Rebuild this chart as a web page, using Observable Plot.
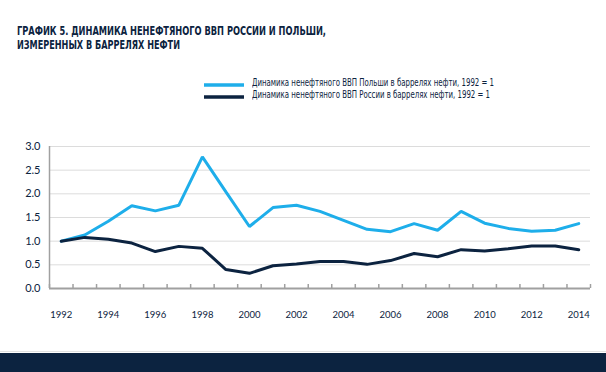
<!DOCTYPE html>
<html>
<head>
<meta charset="utf-8">
<script src="https://cdn.jsdelivr.net/npm/d3@7"></script>
<script src="https://cdn.jsdelivr.net/npm/@observablehq/plot@0.6"></script>
<style>
  html, body { margin: 0; padding: 0; background: #fff; }
  #wrap { position: relative; width: 606px; height: 372px; overflow: hidden; background: #fff; font-family: "DejaVu Sans Condensed", "Liberation Sans", sans-serif; color: #0c2340; }
  #title { position: absolute; left: 17px; top: 24px; font-size: 13px; font-weight: bold; line-height: 14px; color: #0c2340; }
  #title div { white-space: nowrap; transform-origin: 0 50%; display: inline-block; }
  #legend { position: absolute; left: 204px; top: 78px; font-size: 10px; line-height: 12px; color: #0c2340; font-family: "DejaVu Sans Condensed", sans-serif; }
  .lrow { position: relative; height: 12px; white-space: nowrap; }
  .lrow svg { position: absolute; left: 0; top: 5px; }
  .lrow span { position: absolute; left: 48px; top: -1px; display: inline-block; transform-origin: 0 50%; }
  #chart { position: absolute; left: 0; top: 130px; }
  #bar { position: absolute; left: 0; top: 353px; width: 606px; height: 19px; background: #0c2340; }
  #barline { position: absolute; left: 0; top: 351px; width: 606px; height: 1px; background: #e2e2e2; }
</style>
</head>
<body>
<div id="wrap">
  <div id="title"><div id="t1">ГРАФИК 5. ДИНАМИКА НЕНЕФТЯНОГО ВВП РОССИИ И ПОЛЬШИ,</div><br><div id="t2">ИЗМЕРЕННЫХ В БАРРЕЛЯХ НЕФТИ</div></div>
  <div id="legend"></div>
  <div id="chart"></div>
  <div id="barline"></div>
  <div id="bar"></div>
</div>
<script>
const years = [1992,1993,1994,1995,1996,1997,1998,1999,2000,2001,2002,2003,2004,2005,2006,2007,2008,2009,2010,2011,2012,2013,2014];
const poland = [1.00,1.13,1.42,1.75,1.64,1.76,2.78,2.04,1.31,1.71,1.76,1.63,1.44,1.25,1.20,1.37,1.23,1.63,1.38,1.27,1.21,1.23,1.37];
const russia = [1.00,1.08,1.04,0.96,0.78,0.89,0.85,0.40,0.32,0.48,0.52,0.57,0.57,0.51,0.59,0.74,0.67,0.82,0.79,0.84,0.90,0.90,0.82];
const seriesNames = ["Динамика ненефтяного ВВП Польши в баррелях нефти, 1992 = 1", "Динамика ненефтяного ВВП России в баррелях нефти, 1992 = 1"];
const seriesColors = ["#1eaeea", "#0c2340"];
const yTicks = [0, 0.5, 1.0, 1.5, 2.0, 2.5, 3.0];
const xLabels = [1992,1994,1996,1998,2000,2002,2004,2006,2008,2010,2012,2014];

const data = [];
years.forEach((y, i) => {
  data.push({year: y, value: poland[i], series: seriesNames[0]});
  data.push({year: y, value: russia[i], series: seriesNames[1]});
});
const bounds = d3.range(years[0] - 0.5, years[years.length - 1] + 1, 1);

const navy = "#0c2340";
const chart = Plot.plot({
  width: 606,
  height: 200,
  marginLeft: 49,
  marginRight: 16,
  marginTop: 16,
  marginBottom: 42,
  style: {fontFamily: "Lato, 'Open Sans', sans-serif", color: navy, background: "transparent"},
  x: {domain: [years[0] - 0.5, years[years.length - 1] + 0.5], label: null},
  y: {domain: [0, 3], label: null},
  color: {domain: seriesNames, range: seriesColors},
  marks: [
    Plot.gridY(yTicks.filter(d => d > 0), {stroke: "#dcdcdc", strokeOpacity: 1, strokeWidth: 1}),
    Plot.ruleX([years[0] - 0.5], {y1: 0, y2: 3, stroke: "#a0a0a0", strokeWidth: 1.5}),
    Plot.ruleY([0], {stroke: "#a0a0a0", strokeWidth: 2}),
    Plot.axisX({ticks: bounds, tickSize: -4, tickFormat: () => "", label: null, stroke: "#a0a0a0", strokeWidth: 1.5}),
    Plot.axisX({ticks: xLabels, tickSize: 0, tickPadding: 23, label: null, tickFormat: d => String(d), fontSize: 9.5, fill: navy}),
    Plot.axisY({ticks: yTicks, tickSize: 0, tickPadding: 9, label: null, tickFormat: d => d.toFixed(1), fontSize: 11, fill: navy}),
    Plot.line(data, {x: "year", y: "value", z: "series", stroke: "series", strokeWidth: 3, strokeLinejoin: "miter"})
  ]
});
document.getElementById("chart").appendChild(chart);

const legend = document.getElementById("legend");
const spans = [];
seriesNames.forEach((name, i) => {
  const row = document.createElement("div");
  row.className = "lrow";
  row.innerHTML = `<svg width="40" height="4"><line x1="0" x2="40" y1="2" y2="2" stroke="${seriesColors[i]}" stroke-width="3.5"/></svg><span>${name}</span>`;
  legend.appendChild(row);
  spans.push(row.querySelector("span"));
});

function fit(el, target) {
  const w = el.getBoundingClientRect().width;
  if (w > 0) el.style.transform = `scaleX(${target / w})`;
}
fit(document.getElementById("t1"), 309);
fit(document.getElementById("t2"), 163);
fit(spans[0], 242);
fit(spans[1], 238);
</script>
</body>
</html>
